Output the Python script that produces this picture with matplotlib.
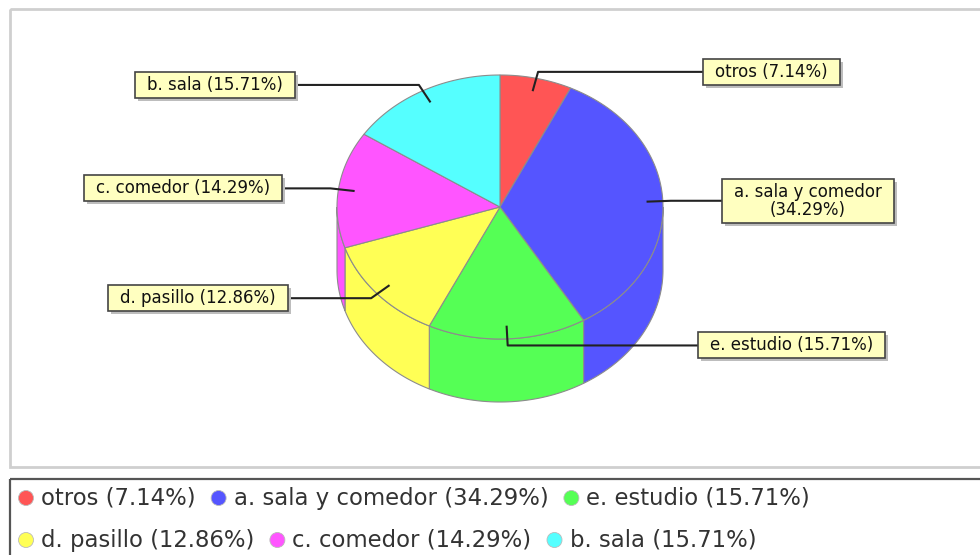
import numpy as np
import matplotlib
matplotlib.use('Agg')
import matplotlib.pyplot as plt
from matplotlib.patches import Polygon, Rectangle, Ellipse

# slices, clockwise from 12 o'clock
labels = ['otros', 'a. sala y comedor', 'e. estudio', 'd. pasillo', 'c. comedor', 'b. sala']
shares = [7.14, 34.29, 15.71, 12.86, 14.29, 15.71]
colors = ['#FF5555', '#5555FF', '#55FF55', '#FFFF55', '#FF55FF', '#55FFFF']

# text inside the callouts (a. is split on two lines)
callout_text = ['otros (7.14%)', 'a. sala y comedor\n(34.29%)', 'e. estudio (15.71%)',
                'd. pasillo (12.86%)', 'c. comedor (14.29%)', 'b. sala (15.71%)']
# legend order: two rows
legend_rows = [[0, 1, 2], [3, 4, 5]]

# layout, pixels
W, H = 980, 555
cx, cy = 500, 207
rx, ry = 163, 132
depth = 63
# inner edge of each callout box (left edge on the right side, right edge on the left side)
box_edge = [703, 722, 698, 288, 282, 295]

fig = plt.figure(figsize=(W / 100, H / 100), dpi=100)
ax = fig.add_axes([0, 0, 1, 1])
ax.set_xlim(0, W)
ax.set_ylim(H, 0)
ax.axis('off')


def pt(theta, r=1.0, dz=0.0):
    t = np.radians(theta)
    return cx + r * rx * np.sin(t), cy - r * ry * np.cos(t) + dz


def arc(t1, t2, r=1.0, dz=0.0, n=80):
    ts = np.linspace(t1, t2, n)
    x, y = pt(ts, r, dz)
    return np.column_stack([x, y])


total = sum(shares)
edges = np.concatenate([[0], np.cumsum(shares) / total * 360])

# plot frame
ax.add_patch(Rectangle((10, 9), 990, 458, fill=False, ec='#CFCFCF', lw=2, zorder=0))

outline = '#8C8C8C'
# side walls (front half only: 90..270 degrees)
for i in range(len(shares)):
    a, b = max(edges[i], 90), min(edges[i + 1], 270)
    if a >= b:
        continue
    top = arc(a, b)
    bot = arc(b, a, dz=depth)
    ax.add_patch(Polygon(np.vstack([top, bot]), closed=True, fc=colors[i],
                         ec=outline, lw=0.8, zorder=2))

# top face
for i in range(len(shares)):
    pts = np.vstack([[cx, cy], arc(edges[i], edges[i + 1])])
    ax.add_patch(Polygon(pts, closed=True, fc=colors[i], ec=outline, lw=0.8, zorder=3))

# callouts
box_font = dict(family='DejaVu Sans', size=12, color='#111111')
fig.canvas.draw()
renderer = fig.canvas.get_renderer()
for i in range(len(shares)):
    mid = (edges[i] + edges[i + 1]) / 2
    ax_, ay_ = pt(mid, 0.9)
    ex, ey = pt(mid, 1.05)
    right = np.sin(np.radians(mid)) > 0
    bx = box_edge[i]
    ax.plot([ax_, ex, bx], [ay_, ey, ey], color='#222222', lw=1.5, zorder=5,
            solid_capstyle='butt')

    pad = 12
    txt = ax.text(0, ey, callout_text[i], ha='center', va='center',
                  multialignment='center', linespacing=1.0, zorder=8, **box_font)
    bb = txt.get_window_extent(renderer)
    tw, th = bb.width, bb.height
    bw, bh = tw + 2 * pad, th + 8
    left = bx if right else bx - bw
    txt.set_x(left + bw / 2)
    ax.add_patch(Rectangle((left + 3, ey - bh / 2 + 3), bw, bh, fc='#BDBDBD', ec='none', zorder=6))
    ax.add_patch(Rectangle((left, ey - bh / 2), bw, bh, fc='#FFFFC0', ec='#444444', lw=1.2, zorder=7))

# legend
ax.add_patch(Rectangle((10, 479), 1000, 100, fill=False, ec='#555555', lw=1.6, zorder=1))
leg_font = dict(family='DejaVu Sans', size=16.4, color='#333333')
row_y = [498, 540]
for r, row in enumerate(legend_rows):
    x = 26
    for i in row:
        ax.add_patch(Ellipse((x, row_y[r]), 15, 15, fc=colors[i], ec='#BBBBBB', lw=0.6, zorder=4))
        t = ax.text(x + 15, row_y[r], f'{labels[i]} ({shares[i]:.2f}%)', ha='left', va='center',
                    zorder=4, **leg_font)
        bb = t.get_window_extent(renderer)
        x = x + 15 + bb.width + 23

fig.savefig('out.png', dpi=100)
